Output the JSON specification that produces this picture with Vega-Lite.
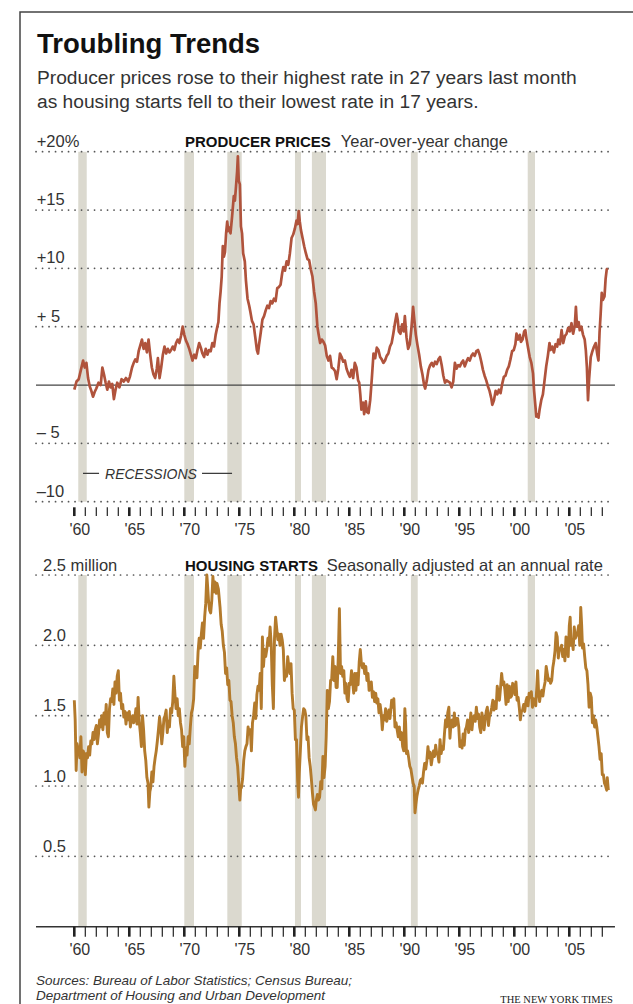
{
  "$schema": "https://vega.github.io/schema/vega-lite/v6.json",
  "width": 620,
  "height": 1000,
  "autosize": {"type": "none"},
  "padding": {"left": 20, "top": 12, "right": -7, "bottom": -8},
  "background": "white",
  "config": {
    "view": {"stroke": "#444", "strokeWidth": 1.5},
    "text": {"font": "Liberation Sans"}
  },
  "title": {
    "text": "Troubling Trends",
    "subtitle": ["Producer prices rose to their highest rate in 27 years last month", "as housing starts fell to their lowest rate in 17 years."],
    "anchor": "start",
    "frame": "group",
    "dx": 17,
    "offset": -100,
    "font": "Liberation Sans",
    "fontSize": 27.5,
    "fontWeight": "bold",
    "color": "#111",
    "subtitleFont": "Liberation Sans",
    "subtitleFontSize": 19.2,
    "subtitleColor": "#333",
    "subtitleLineHeight": 24,
    "subtitlePadding": 10
  },
  "datasets": {
    "rec": [
      {"start": 1960.36, "end": 1961.13}, {"start": 1970.0, "end": 1970.88}, {"start": 1973.91, "end": 1975.22},
      {"start": 1980.06, "end": 1980.61}, {"start": 1981.6, "end": 1982.88}, {"start": 1990.6, "end": 1991.22},
      {"start": 2001.22, "end": 2001.88}
    ],
    "years": [
      {"year": 1960}, {"year": 1961}, {"year": 1962}, {"year": 1963}, {"year": 1964}, {"year": 1965}, {"year": 1966},
      {"year": 1967}, {"year": 1968}, {"year": 1969}, {"year": 1970}, {"year": 1971}, {"year": 1972}, {"year": 1973},
      {"year": 1974}, {"year": 1975}, {"year": 1976}, {"year": 1977}, {"year": 1978}, {"year": 1979}, {"year": 1980},
      {"year": 1981}, {"year": 1982}, {"year": 1983}, {"year": 1984}, {"year": 1985}, {"year": 1986}, {"year": 1987},
      {"year": 1988}, {"year": 1989}, {"year": 1990}, {"year": 1991}, {"year": 1992}, {"year": 1993}, {"year": 1994},
      {"year": 1995}, {"year": 1996}, {"year": 1997}, {"year": 1998}, {"year": 1999}, {"year": 2000}, {"year": 2001},
      {"year": 2002}, {"year": 2003}, {"year": 2004}, {"year": 2005}, {"year": 2006}, {"year": 2007}, {"year": 2008}
    ],
    "xlab": [
      {"year": 1960, "label": "'60"}, {"year": 1965, "label": "'65"}, {"year": 1970, "label": "'70"},
      {"year": 1975, "label": "'75"}, {"year": 1980, "label": "'80"}, {"year": 1985, "label": "'85"},
      {"year": 1990, "label": "'90"}, {"year": 1995, "label": "'95"}, {"year": 2000, "label": "'00"},
      {"year": 2005, "label": "'05"}
    ],
    "labT": [
      {"v": 20, "label": "+20%"}, {"v": 15, "label": "+15"}, {"v": 10, "label": "+10"},
      {"v": 5, "label": "+ 5"}, {"v": -5, "label": "– 5"}, {"v": -10, "label": "–10"}
    ],
    "labB": [
      {"v": 2.5, "label": "2.5 million"}, {"v": 2.0, "label": "2.0"}, {"v": 1.5, "label": "1.5"},
      {"v": 1.0, "label": "1.0"}, {"v": 0.5, "label": "0.5"}
    ],
    "ppi": [
      {"t":1960.0,"v":-0.4},{"t":1960.2,"v":0.3},{"t":1960.4,"v":0.5},{"t":1960.6,"v":1.3},{"t":1960.8,"v":2.1},{"t":1960.95,"v":1.5},
      {"t":1961.1,"v":1.9},{"t":1961.25,"v":0.6},{"t":1961.4,"v":-0.1},{"t":1961.55,"v":-0.5},{"t":1961.7,"v":-1.0},{"t":1961.85,"v":-0.6},
      {"t":1962.0,"v":-0.3},{"t":1962.2,"v":0.2},{"t":1962.4,"v":0.0},{"t":1962.55,"v":1.5},{"t":1962.7,"v":0.9},{"t":1962.85,"v":0.2},
      {"t":1963.0,"v":-0.4},{"t":1963.15,"v":0.3},{"t":1963.3,"v":-0.2},{"t":1963.45,"v":0.1},{"t":1963.6,"v":-1.2},{"t":1963.75,"v":-0.4},{"t":1963.9,"v":0.2},
      {"t":1964.1,"v":-0.2},{"t":1964.3,"v":0.5},{"t":1964.5,"v":0.3},{"t":1964.7,"v":0.6},{"t":1964.9,"v":0.3},
      {"t":1965.05,"v":0.7},{"t":1965.25,"v":1.5},{"t":1965.4,"v":1.9},{"t":1965.55,"v":2.2},{"t":1965.7,"v":2.0},{"t":1965.85,"v":2.9},
      {"t":1966.0,"v":3.4},{"t":1966.15,"v":3.9},{"t":1966.3,"v":3.1},{"t":1966.45,"v":3.6},{"t":1966.6,"v":2.8},{"t":1966.75,"v":3.9},{"t":1966.9,"v":2.6},
      {"t":1967.05,"v":1.5},{"t":1967.2,"v":0.9},{"t":1967.35,"v":0.6},{"t":1967.5,"v":1.4},{"t":1967.6,"v":2.3},{"t":1967.75,"v":0.6},{"t":1967.9,"v":1.5},
      {"t":1968.05,"v":2.6},{"t":1968.2,"v":3.3},{"t":1968.35,"v":2.7},{"t":1968.5,"v":3.1},{"t":1968.65,"v":2.8},{"t":1968.8,"v":3.0},{"t":1968.95,"v":3.3},
      {"t":1969.1,"v":3.0},{"t":1969.25,"v":3.6},{"t":1969.4,"v":3.9},{"t":1969.55,"v":3.6},{"t":1969.7,"v":4.2},{"t":1969.85,"v":5.0},
      {"t":1970.0,"v":4.3},{"t":1970.15,"v":3.8},{"t":1970.3,"v":3.5},{"t":1970.45,"v":3.1},{"t":1970.6,"v":2.6},{"t":1970.75,"v":2.1},{"t":1970.9,"v":2.6},
      {"t":1971.05,"v":2.3},{"t":1971.2,"v":3.0},{"t":1971.35,"v":3.6},{"t":1971.5,"v":3.2},{"t":1971.65,"v":2.7},{"t":1971.8,"v":2.4},{"t":1971.95,"v":3.1},
      {"t":1972.1,"v":2.6},{"t":1972.25,"v":3.0},{"t":1972.4,"v":2.9},{"t":1972.55,"v":3.6},{"t":1972.7,"v":3.3},{"t":1972.85,"v":4.3},
      {"t":1973.0,"v":5.0},{"t":1973.1,"v":5.4},{"t":1973.2,"v":7.0},{"t":1973.3,"v":8.0},{"t":1973.4,"v":9.3},{"t":1973.5,"v":11.9},{"t":1973.6,"v":11.0},
      {"t":1973.7,"v":11.4},{"t":1973.8,"v":13.0},{"t":1973.9,"v":14.0},{"t":1974.0,"v":13.2},{"t":1974.1,"v":13.5},{"t":1974.2,"v":13.0},{"t":1974.35,"v":14.5},
      {"t":1974.5,"v":16.2},{"t":1974.6,"v":15.8},{"t":1974.7,"v":17.0},{"t":1974.8,"v":18.3},{"t":1974.87,"v":19.6},{"t":1974.95,"v":17.5},
      {"t":1975.05,"v":17.2},{"t":1975.15,"v":13.6},{"t":1975.25,"v":13.0},{"t":1975.35,"v":11.3},{"t":1975.5,"v":10.6},{"t":1975.6,"v":9.0},{"t":1975.75,"v":7.4},{"t":1975.9,"v":6.8},
      {"t":1976.0,"v":6.3},{"t":1976.15,"v":5.5},{"t":1976.3,"v":5.2},{"t":1976.45,"v":4.1},{"t":1976.6,"v":3.0},{"t":1976.7,"v":2.7},{"t":1976.8,"v":3.5},{"t":1976.95,"v":4.5},
      {"t":1977.1,"v":5.6},{"t":1977.25,"v":5.9},{"t":1977.4,"v":6.4},{"t":1977.55,"v":6.8},{"t":1977.7,"v":6.6},{"t":1977.85,"v":7.2},
      {"t":1978.0,"v":7.0},{"t":1978.15,"v":7.4},{"t":1978.3,"v":7.2},{"t":1978.45,"v":8.3},{"t":1978.6,"v":8.4},{"t":1978.75,"v":8.6},{"t":1978.9,"v":9.6},
      {"t":1979.0,"v":10.1},{"t":1979.15,"v":9.8},{"t":1979.3,"v":10.6},{"t":1979.45,"v":10.3},{"t":1979.6,"v":11.3},{"t":1979.75,"v":12.6},{"t":1979.9,"v":12.9},
      {"t":1980.05,"v":13.4},{"t":1980.2,"v":14.1},{"t":1980.3,"v":13.8},{"t":1980.4,"v":14.9},{"t":1980.5,"v":14.0},{"t":1980.6,"v":13.3},{"t":1980.75,"v":12.6},{"t":1980.9,"v":11.9},
      {"t":1981.05,"v":11.3},{"t":1981.2,"v":10.8},{"t":1981.35,"v":10.7},{"t":1981.5,"v":9.9},{"t":1981.65,"v":9.3},{"t":1981.8,"v":8.0},{"t":1981.95,"v":7.0},
      {"t":1982.1,"v":5.0},{"t":1982.2,"v":4.4},{"t":1982.35,"v":3.6},{"t":1982.5,"v":3.9},{"t":1982.65,"v":3.7},{"t":1982.8,"v":3.4},{"t":1982.95,"v":2.5},
      {"t":1983.1,"v":2.1},{"t":1983.25,"v":2.5},{"t":1983.4,"v":1.5},{"t":1983.55,"v":1.4},{"t":1983.7,"v":1.2},{"t":1983.85,"v":0.5},
      {"t":1984.0,"v":1.4},{"t":1984.15,"v":2.7},{"t":1984.3,"v":2.4},{"t":1984.45,"v":2.0},{"t":1984.6,"v":2.1},{"t":1984.75,"v":1.4},{"t":1984.9,"v":1.0},
      {"t":1985.05,"v":0.7},{"t":1985.2,"v":1.3},{"t":1985.35,"v":0.6},{"t":1985.5,"v":1.9},{"t":1985.65,"v":1.5},{"t":1985.8,"v":0.4},{"t":1985.9,"v":0.2},
      {"t":1986.0,"v":-0.8},{"t":1986.1,"v":-2.1},{"t":1986.25,"v":-1.5},{"t":1986.35,"v":-2.5},{"t":1986.5,"v":-1.4},{"t":1986.6,"v":-2.3},{"t":1986.75,"v":-2.4},{"t":1986.9,"v":-1.3},
      {"t":1987.05,"v":0.6},{"t":1987.2,"v":2.7},{"t":1987.35,"v":2.3},{"t":1987.5,"v":3.2},{"t":1987.65,"v":3.0},{"t":1987.8,"v":2.4},{"t":1987.95,"v":2.2},
      {"t":1988.1,"v":1.9},{"t":1988.25,"v":2.1},{"t":1988.4,"v":2.5},{"t":1988.55,"v":2.7},{"t":1988.7,"v":3.3},{"t":1988.85,"v":3.6},
      {"t":1989.0,"v":4.4},{"t":1989.15,"v":5.3},{"t":1989.3,"v":6.1},{"t":1989.4,"v":5.6},{"t":1989.5,"v":4.6},{"t":1989.65,"v":4.4},{"t":1989.8,"v":5.2},{"t":1989.95,"v":4.6},
      {"t":1990.05,"v":5.9},{"t":1990.2,"v":4.1},{"t":1990.35,"v":3.1},{"t":1990.5,"v":3.5},{"t":1990.65,"v":4.9},{"t":1990.8,"v":6.7},{"t":1990.9,"v":5.7},
      {"t":1991.05,"v":4.3},{"t":1991.2,"v":3.4},{"t":1991.35,"v":2.6},{"t":1991.5,"v":1.6},{"t":1991.65,"v":0.9},{"t":1991.8,"v":0.0},{"t":1991.9,"v":-0.3},
      {"t":1992.05,"v":0.4},{"t":1992.2,"v":1.3},{"t":1992.35,"v":1.7},{"t":1992.5,"v":1.9},{"t":1992.65,"v":1.6},{"t":1992.8,"v":2.0},{"t":1992.95,"v":1.8},
      {"t":1993.1,"v":2.2},{"t":1993.25,"v":2.4},{"t":1993.4,"v":1.7},{"t":1993.55,"v":0.8},{"t":1993.7,"v":0.2},{"t":1993.85,"v":0.4},
      {"t":1994.0,"v":0.3},{"t":1994.15,"v":0.2},{"t":1994.3,"v":-0.2},{"t":1994.45,"v":0.3},{"t":1994.6,"v":1.9},{"t":1994.75,"v":1.4},{"t":1994.9,"v":1.7},
      {"t":1995.05,"v":1.6},{"t":1995.2,"v":1.9},{"t":1995.35,"v":2.1},{"t":1995.5,"v":1.6},{"t":1995.65,"v":2.0},{"t":1995.8,"v":2.3},{"t":1995.95,"v":2.1},
      {"t":1996.1,"v":2.5},{"t":1996.25,"v":2.7},{"t":1996.4,"v":2.5},{"t":1996.55,"v":2.9},{"t":1996.7,"v":3.0},{"t":1996.85,"v":2.6},
      {"t":1997.0,"v":2.0},{"t":1997.15,"v":1.3},{"t":1997.3,"v":0.8},{"t":1997.45,"v":0.4},{"t":1997.6,"v":-0.1},{"t":1997.75,"v":-0.5},{"t":1997.9,"v":-1.1},
      {"t":1998.0,"v":-1.7},{"t":1998.15,"v":-1.3},{"t":1998.3,"v":-0.5},{"t":1998.45,"v":-0.8},{"t":1998.6,"v":-0.4},{"t":1998.75,"v":-0.7},{"t":1998.9,"v":0.1},
      {"t":1999.05,"v":0.7},{"t":1999.2,"v":0.8},{"t":1999.35,"v":1.3},{"t":1999.5,"v":1.6},{"t":1999.65,"v":2.2},{"t":1999.8,"v":2.9},{"t":1999.95,"v":3.0},
      {"t":2000.1,"v":3.5},{"t":2000.2,"v":4.4},{"t":2000.35,"v":3.9},{"t":2000.5,"v":4.3},{"t":2000.6,"v":3.7},{"t":2000.75,"v":3.9},{"t":2000.9,"v":4.6},
      {"t":2001.0,"v":4.7},{"t":2001.1,"v":4.0},{"t":2001.25,"v":3.2},{"t":2001.4,"v":2.4},{"t":2001.55,"v":1.9},{"t":2001.7,"v":1.0},{"t":2001.8,"v":-0.5},{"t":2001.9,"v":-1.6},
      {"t":2002.0,"v":-2.7},{"t":2002.1,"v":-2.5},{"t":2002.2,"v":-2.8},{"t":2002.3,"v":-2.1},{"t":2002.45,"v":-1.3},{"t":2002.6,"v":-0.8},{"t":2002.75,"v":0.4},{"t":2002.9,"v":1.6},
      {"t":2003.05,"v":2.5},{"t":2003.2,"v":3.6},{"t":2003.3,"v":3.0},{"t":2003.45,"v":3.3},{"t":2003.6,"v":2.8},{"t":2003.75,"v":3.5},{"t":2003.9,"v":3.3},
      {"t":2004.0,"v":3.9},{"t":2004.15,"v":3.5},{"t":2004.3,"v":4.7},{"t":2004.45,"v":3.6},{"t":2004.6,"v":4.2},{"t":2004.75,"v":4.4},{"t":2004.9,"v":4.9},
      {"t":2005.05,"v":4.6},{"t":2005.2,"v":5.3},{"t":2005.35,"v":4.4},{"t":2005.5,"v":5.1},{"t":2005.6,"v":6.7},{"t":2005.7,"v":5.0},{"t":2005.85,"v":5.4},{"t":2005.95,"v":4.7},
      {"t":2006.1,"v":5.0},{"t":2006.25,"v":4.3},{"t":2006.4,"v":3.9},{"t":2006.5,"v":3.0},{"t":2006.6,"v":1.5},{"t":2006.7,"v":-1.3},{"t":2006.8,"v":0.5},{"t":2006.95,"v":2.4},
      {"t":2007.1,"v":2.9},{"t":2007.25,"v":3.3},{"t":2007.4,"v":3.6},{"t":2007.55,"v":2.6},{"t":2007.65,"v":2.1},{"t":2007.75,"v":4.5},{"t":2007.85,"v":6.1},{"t":2007.95,"v":7.9},
      {"t":2008.05,"v":7.3},{"t":2008.2,"v":7.6},{"t":2008.3,"v":9.1},{"t":2008.4,"v":9.9},{"t":2008.5,"v":10.0}
    ],
    "hs": [
      {"t":1960.0,"v":1.61},{"t":1960.08,"v":1.47},{"t":1960.17,"v":1.11},{"t":1960.25,"v":1.30},{"t":1960.33,"v":1.27},{"t":1960.42,"v":1.25},{"t":1960.5,"v":1.20},
      {"t":1960.6,"v":1.35},{"t":1960.7,"v":1.10},{"t":1960.8,"v":1.25},{"t":1960.9,"v":1.23},{"t":1961.0,"v":1.08},{"t":1961.1,"v":1.23},{"t":1961.2,"v":1.20},
      {"t":1961.3,"v":1.28},{"t":1961.4,"v":1.22},{"t":1961.5,"v":1.32},{"t":1961.6,"v":1.30},{"t":1961.7,"v":1.38},{"t":1961.8,"v":1.33},{"t":1961.9,"v":1.40},
      {"t":1962.0,"v":1.43},{"t":1962.1,"v":1.30},{"t":1962.2,"v":1.37},{"t":1962.3,"v":1.47},{"t":1962.4,"v":1.42},{"t":1962.5,"v":1.50},{"t":1962.6,"v":1.40},
      {"t":1962.7,"v":1.52},{"t":1962.8,"v":1.44},{"t":1962.9,"v":1.58},{"t":1963.0,"v":1.38},{"t":1963.1,"v":1.35},{"t":1963.2,"v":1.55},{"t":1963.3,"v":1.62},
      {"t":1963.4,"v":1.60},{"t":1963.5,"v":1.69},{"t":1963.6,"v":1.58},{"t":1963.7,"v":1.74},{"t":1963.8,"v":1.66},{"t":1963.9,"v":1.78},{"t":1964.0,"v":1.82},
      {"t":1964.1,"v":1.61},{"t":1964.2,"v":1.66},{"t":1964.3,"v":1.55},{"t":1964.4,"v":1.58},{"t":1964.5,"v":1.49},{"t":1964.6,"v":1.53},{"t":1964.7,"v":1.44},
      {"t":1964.8,"v":1.52},{"t":1964.9,"v":1.47},{"t":1965.0,"v":1.53},{"t":1965.1,"v":1.42},{"t":1965.2,"v":1.48},{"t":1965.3,"v":1.50},{"t":1965.4,"v":1.45},
      {"t":1965.5,"v":1.48},{"t":1965.6,"v":1.55},{"t":1965.7,"v":1.44},{"t":1965.8,"v":1.63},{"t":1965.9,"v":1.46},{"t":1966.0,"v":1.38},{"t":1966.1,"v":1.28},
      {"t":1966.2,"v":1.50},{"t":1966.3,"v":1.40},{"t":1966.4,"v":1.25},{"t":1966.5,"v":1.18},{"t":1966.6,"v":1.06},{"t":1966.7,"v":1.02},{"t":1966.78,"v":0.85},
      {"t":1966.87,"v":0.96},{"t":1966.95,"v":0.99},{"t":1967.05,"v":1.10},{"t":1967.15,"v":1.03},{"t":1967.25,"v":1.14},{"t":1967.35,"v":1.20},{"t":1967.45,"v":1.25},
      {"t":1967.55,"v":1.32},{"t":1967.65,"v":1.40},{"t":1967.75,"v":1.49},{"t":1967.85,"v":1.42},{"t":1967.95,"v":1.30},{"t":1968.05,"v":1.38},{"t":1968.15,"v":1.48},
      {"t":1968.25,"v":1.50},{"t":1968.35,"v":1.54},{"t":1968.45,"v":1.38},{"t":1968.55,"v":1.46},{"t":1968.65,"v":1.42},{"t":1968.75,"v":1.55},{"t":1968.85,"v":1.52},
      {"t":1968.95,"v":1.60},{"t":1969.05,"v":1.78},{"t":1969.15,"v":1.65},{"t":1969.25,"v":1.55},{"t":1969.35,"v":1.62},{"t":1969.45,"v":1.50},{"t":1969.55,"v":1.55},
      {"t":1969.65,"v":1.45},{"t":1969.75,"v":1.40},{"t":1969.85,"v":1.28},{"t":1969.95,"v":1.35},{"t":1970.05,"v":1.14},{"t":1970.15,"v":1.27},{"t":1970.25,"v":1.22},
      {"t":1970.35,"v":1.35},{"t":1970.45,"v":1.30},{"t":1970.55,"v":1.42},{"t":1970.65,"v":1.52},{"t":1970.75,"v":1.55},{"t":1970.85,"v":1.62},{"t":1970.95,"v":1.85},
      {"t":1971.05,"v":1.83},{"t":1971.15,"v":1.77},{"t":1971.25,"v":1.95},{"t":1971.35,"v":2.05},{"t":1971.45,"v":1.98},{"t":1971.55,"v":2.08},{"t":1971.65,"v":2.16},
      {"t":1971.75,"v":2.05},{"t":1971.85,"v":2.20},{"t":1971.95,"v":2.30},{"t":1972.05,"v":2.50},{"t":1972.12,"v":2.42},{"t":1972.2,"v":2.32},{"t":1972.3,"v":2.25},
      {"t":1972.4,"v":2.23},{"t":1972.5,"v":2.32},{"t":1972.6,"v":2.49},{"t":1972.7,"v":2.38},{"t":1972.8,"v":2.45},{"t":1972.9,"v":2.37},{"t":1972.97,"v":2.44},
      {"t":1973.1,"v":2.40},{"t":1973.25,"v":2.27},{"t":1973.35,"v":2.15},{"t":1973.45,"v":2.10},{"t":1973.55,"v":2.00},{"t":1973.65,"v":1.95},{"t":1973.75,"v":1.80},
      {"t":1973.85,"v":1.84},{"t":1973.95,"v":1.72},{"t":1974.05,"v":1.75},{"t":1974.15,"v":1.61},{"t":1974.25,"v":1.60},{"t":1974.35,"v":1.50},{"t":1974.45,"v":1.45},
      {"t":1974.55,"v":1.35},{"t":1974.65,"v":1.30},{"t":1974.75,"v":1.20},{"t":1974.85,"v":1.14},{"t":1974.95,"v":1.02},{"t":1975.05,"v":0.90},{"t":1975.12,"v":0.98},
      {"t":1975.2,"v":0.99},{"t":1975.3,"v":1.05},{"t":1975.4,"v":1.18},{"t":1975.5,"v":1.25},{"t":1975.6,"v":1.28},{"t":1975.7,"v":1.30},{"t":1975.8,"v":1.42},
      {"t":1975.9,"v":1.37},{"t":1976.0,"v":1.40},{"t":1976.1,"v":1.25},{"t":1976.2,"v":1.45},{"t":1976.3,"v":1.50},{"t":1976.4,"v":1.59},{"t":1976.5,"v":1.48},
      {"t":1976.6,"v":1.65},{"t":1976.7,"v":1.71},{"t":1976.8,"v":1.68},{"t":1976.9,"v":1.80},{"t":1977.0,"v":1.55},{"t":1977.1,"v":2.06},{"t":1977.2,"v":1.85},
      {"t":1977.3,"v":1.97},{"t":1977.4,"v":1.92},{"t":1977.5,"v":1.97},{"t":1977.6,"v":2.05},{"t":1977.7,"v":2.00},{"t":1977.8,"v":2.13},{"t":1977.9,"v":2.01},
      {"t":1978.0,"v":1.72},{"t":1978.1,"v":1.55},{"t":1978.2,"v":2.05},{"t":1978.3,"v":2.20},{"t":1978.4,"v":2.12},{"t":1978.5,"v":2.04},{"t":1978.6,"v":2.08},
      {"t":1978.7,"v":2.00},{"t":1978.8,"v":2.08},{"t":1978.9,"v":2.04},{"t":1979.0,"v":1.97},{"t":1979.1,"v":1.75},{"t":1979.2,"v":1.80},{"t":1979.3,"v":1.78},
      {"t":1979.4,"v":1.92},{"t":1979.5,"v":1.85},{"t":1979.6,"v":1.80},{"t":1979.7,"v":1.87},{"t":1979.8,"v":1.66},{"t":1979.9,"v":1.55},{"t":1980.0,"v":1.54},
      {"t":1980.1,"v":1.33},{"t":1980.2,"v":1.33},{"t":1980.3,"v":1.04},{"t":1980.38,"v":0.92},{"t":1980.45,"v":1.09},{"t":1980.55,"v":1.25},{"t":1980.65,"v":1.42},
      {"t":1980.75,"v":1.49},{"t":1980.85,"v":1.55},{"t":1980.95,"v":1.54},{"t":1981.05,"v":1.50},{"t":1981.15,"v":1.33},{"t":1981.25,"v":1.35},{"t":1981.35,"v":1.20},
      {"t":1981.45,"v":1.14},{"t":1981.55,"v":1.05},{"t":1981.65,"v":0.95},{"t":1981.75,"v":0.87},{"t":1981.85,"v":0.85},{"t":1981.92,"v":0.83},{"t":1982.0,"v":0.90},
      {"t":1982.1,"v":0.94},{"t":1982.2,"v":0.90},{"t":1982.3,"v":0.92},{"t":1982.4,"v":1.03},{"t":1982.5,"v":0.98},{"t":1982.6,"v":1.21},{"t":1982.7,"v":1.06},
      {"t":1982.8,"v":1.14},{"t":1982.9,"v":1.35},{"t":1983.0,"v":1.68},{"t":1983.1,"v":1.55},{"t":1983.2,"v":1.60},{"t":1983.3,"v":1.75},{"t":1983.4,"v":1.76},
      {"t":1983.5,"v":1.92},{"t":1983.6,"v":1.75},{"t":1983.7,"v":1.85},{"t":1983.8,"v":1.70},{"t":1983.9,"v":1.70},{"t":1984.0,"v":1.92},{"t":1984.1,"v":2.26},
      {"t":1984.2,"v":1.80},{"t":1984.3,"v":1.85},{"t":1984.4,"v":1.78},{"t":1984.5,"v":1.82},{"t":1984.6,"v":1.66},{"t":1984.7,"v":1.73},{"t":1984.8,"v":1.62},
      {"t":1984.9,"v":1.60},{"t":1985.0,"v":1.73},{"t":1985.1,"v":1.72},{"t":1985.2,"v":1.82},{"t":1985.3,"v":1.75},{"t":1985.4,"v":1.66},{"t":1985.5,"v":1.80},
      {"t":1985.6,"v":1.68},{"t":1985.7,"v":1.80},{"t":1985.8,"v":1.72},{"t":1985.9,"v":1.88},{"t":1986.0,"v":1.97},{"t":1986.1,"v":1.87},{"t":1986.2,"v":1.84},
      {"t":1986.3,"v":1.87},{"t":1986.4,"v":1.80},{"t":1986.5,"v":1.85},{"t":1986.6,"v":1.75},{"t":1986.7,"v":1.80},{"t":1986.8,"v":1.68},{"t":1986.9,"v":1.70},
      {"t":1987.0,"v":1.74},{"t":1987.1,"v":1.63},{"t":1987.2,"v":1.67},{"t":1987.3,"v":1.60},{"t":1987.4,"v":1.66},{"t":1987.5,"v":1.59},{"t":1987.6,"v":1.62},
      {"t":1987.7,"v":1.52},{"t":1987.8,"v":1.58},{"t":1987.9,"v":1.52},{"t":1988.0,"v":1.40},{"t":1988.1,"v":1.50},{"t":1988.2,"v":1.47},{"t":1988.3,"v":1.55},
      {"t":1988.4,"v":1.46},{"t":1988.5,"v":1.49},{"t":1988.6,"v":1.54},{"t":1988.7,"v":1.48},{"t":1988.85,"v":1.61},{"t":1988.95,"v":1.56},{"t":1989.05,"v":1.62},
      {"t":1989.15,"v":1.42},{"t":1989.25,"v":1.45},{"t":1989.35,"v":1.40},{"t":1989.45,"v":1.35},{"t":1989.55,"v":1.42},{"t":1989.65,"v":1.33},{"t":1989.75,"v":1.38},
      {"t":1989.85,"v":1.28},{"t":1989.95,"v":1.25},{"t":1990.05,"v":1.55},{"t":1990.12,"v":1.45},{"t":1990.2,"v":1.23},{"t":1990.3,"v":1.25},{"t":1990.4,"v":1.20},
      {"t":1990.5,"v":1.14},{"t":1990.6,"v":1.12},{"t":1990.7,"v":1.07},{"t":1990.8,"v":1.02},{"t":1990.9,"v":1.00},{"t":1990.97,"v":0.81},{"t":1991.05,"v":0.87},
      {"t":1991.15,"v":0.93},{"t":1991.25,"v":0.97},{"t":1991.35,"v":1.00},{"t":1991.45,"v":1.04},{"t":1991.55,"v":1.05},{"t":1991.65,"v":1.02},{"t":1991.75,"v":1.10},
      {"t":1991.85,"v":1.16},{"t":1991.95,"v":1.12},{"t":1992.05,"v":1.18},{"t":1992.15,"v":1.28},{"t":1992.25,"v":1.20},{"t":1992.35,"v":1.24},{"t":1992.45,"v":1.15},
      {"t":1992.55,"v":1.20},{"t":1992.65,"v":1.25},{"t":1992.75,"v":1.21},{"t":1992.85,"v":1.29},{"t":1992.95,"v":1.23},{"t":1993.05,"v":1.22},{"t":1993.15,"v":1.17},
      {"t":1993.25,"v":1.33},{"t":1993.35,"v":1.23},{"t":1993.45,"v":1.28},{"t":1993.55,"v":1.26},{"t":1993.65,"v":1.37},{"t":1993.75,"v":1.47},{"t":1993.85,"v":1.42},
      {"t":1993.95,"v":1.52},{"t":1994.05,"v":1.56},{"t":1994.15,"v":1.34},{"t":1994.25,"v":1.45},{"t":1994.35,"v":1.47},{"t":1994.45,"v":1.42},{"t":1994.55,"v":1.52},
      {"t":1994.65,"v":1.43},{"t":1994.75,"v":1.48},{"t":1994.85,"v":1.48},{"t":1994.95,"v":1.42},{"t":1995.05,"v":1.28},{"t":1995.15,"v":1.32},{"t":1995.25,"v":1.27},
      {"t":1995.35,"v":1.37},{"t":1995.45,"v":1.29},{"t":1995.55,"v":1.40},{"t":1995.65,"v":1.42},{"t":1995.75,"v":1.47},{"t":1995.85,"v":1.38},{"t":1995.95,"v":1.43},
      {"t":1996.05,"v":1.52},{"t":1996.15,"v":1.40},{"t":1996.25,"v":1.48},{"t":1996.35,"v":1.50},{"t":1996.45,"v":1.46},{"t":1996.55,"v":1.56},{"t":1996.65,"v":1.48},
      {"t":1996.75,"v":1.51},{"t":1996.85,"v":1.42},{"t":1996.95,"v":1.38},{"t":1997.05,"v":1.52},{"t":1997.15,"v":1.48},{"t":1997.25,"v":1.40},{"t":1997.35,"v":1.47},
      {"t":1997.45,"v":1.53},{"t":1997.55,"v":1.56},{"t":1997.65,"v":1.43},{"t":1997.75,"v":1.50},{"t":1997.85,"v":1.52},{"t":1997.95,"v":1.56},{"t":1998.05,"v":1.61},
      {"t":1998.15,"v":1.54},{"t":1998.25,"v":1.60},{"t":1998.35,"v":1.55},{"t":1998.45,"v":1.71},{"t":1998.55,"v":1.65},{"t":1998.65,"v":1.61},{"t":1998.75,"v":1.70},
      {"t":1998.85,"v":1.80},{"t":1998.95,"v":1.72},{"t":1999.05,"v":1.74},{"t":1999.15,"v":1.68},{"t":1999.25,"v":1.58},{"t":1999.35,"v":1.72},{"t":1999.45,"v":1.60},
      {"t":1999.55,"v":1.71},{"t":1999.65,"v":1.63},{"t":1999.75,"v":1.64},{"t":1999.85,"v":1.73},{"t":1999.95,"v":1.71},{"t":2000.05,"v":1.65},{"t":2000.15,"v":1.74},
      {"t":2000.25,"v":1.61},{"t":2000.35,"v":1.63},{"t":2000.45,"v":1.56},{"t":2000.55,"v":1.47},{"t":2000.65,"v":1.53},{"t":2000.75,"v":1.54},{"t":2000.85,"v":1.58},
      {"t":2000.95,"v":1.53},{"t":2001.05,"v":1.60},{"t":2001.15,"v":1.63},{"t":2001.25,"v":1.57},{"t":2001.35,"v":1.66},{"t":2001.45,"v":1.63},{"t":2001.55,"v":1.67},
      {"t":2001.65,"v":1.56},{"t":2001.75,"v":1.62},{"t":2001.85,"v":1.60},{"t":2001.95,"v":1.57},{"t":2002.05,"v":1.71},{"t":2002.12,"v":1.82},{"t":2002.2,"v":1.68},
      {"t":2002.3,"v":1.60},{"t":2002.4,"v":1.66},{"t":2002.5,"v":1.68},{"t":2002.6,"v":1.64},{"t":2002.7,"v":1.70},{"t":2002.8,"v":1.74},{"t":2002.9,"v":1.85},
      {"t":2003.0,"v":1.80},{"t":2003.1,"v":1.75},{"t":2003.2,"v":1.76},{"t":2003.3,"v":1.73},{"t":2003.4,"v":1.75},{"t":2003.5,"v":1.84},{"t":2003.6,"v":1.89},
      {"t":2003.7,"v":1.96},{"t":2003.8,"v":2.09},{"t":2003.9,"v":2.06},{"t":2004.0,"v":1.91},{"t":2004.1,"v":1.97},{"t":2004.2,"v":1.98},{"t":2004.3,"v":2.00},
      {"t":2004.4,"v":1.92},{"t":2004.5,"v":1.97},{"t":2004.6,"v":1.89},{"t":2004.7,"v":2.06},{"t":2004.8,"v":2.04},{"t":2004.9,"v":1.92},{"t":2005.0,"v":2.14},
      {"t":2005.08,"v":2.20},{"t":2005.15,"v":2.00},{"t":2005.25,"v":2.04},{"t":2005.35,"v":1.97},{"t":2005.45,"v":2.13},{"t":2005.55,"v":2.05},{"t":2005.65,"v":2.07},
      {"t":2005.75,"v":2.09},{"t":2005.85,"v":2.14},{"t":2005.95,"v":2.00},{"t":2006.04,"v":2.27},{"t":2006.12,"v":2.15},{"t":2006.2,"v":1.98},{"t":2006.3,"v":2.01},
      {"t":2006.4,"v":1.92},{"t":2006.5,"v":1.84},{"t":2006.6,"v":1.82},{"t":2006.7,"v":1.72},{"t":2006.8,"v":1.56},{"t":2006.9,"v":1.66},{"t":2007.0,"v":1.63},
      {"t":2007.1,"v":1.45},{"t":2007.2,"v":1.50},{"t":2007.3,"v":1.42},{"t":2007.4,"v":1.47},{"t":2007.5,"v":1.42},{"t":2007.6,"v":1.35},{"t":2007.7,"v":1.28},
      {"t":2007.8,"v":1.19},{"t":2007.9,"v":1.23},{"t":2008.0,"v":1.08},{"t":2008.1,"v":1.08},{"t":2008.2,"v":1.02},{"t":2008.3,"v":1.00},{"t":2008.4,"v":0.97},
      {"t":2008.45,"v":1.06},{"t":2008.55,"v":0.97}
    ]
  },
  "layer": [
    {
      "layer": [
        {
          "data": {"name": "rec"},
          "mark": {"type": "rect", "color": "#dbd9cf"},
          "encoding": {
            "x": {"field": "start", "type": "quantitative", "scale": {"domain": [1955.0636, 2011.427], "nice": false, "zero": false}, "axis": null},
            "x2": {"field": "end"},
            "y": {"datum": 20, "type": "quantitative", "scale": {"domain": [-10, 20], "range": [489.7, 139.7], "nice": false, "zero": false}, "axis": null},
            "y2": {"datum": -10}
          }
        },
        {
          "data": {"values": [{"v": 20}, {"v": 15}, {"v": 10}, {"v": 5}, {"v": -5}, {"v": -10}]},
          "mark": {"type": "rule", "color": "#555", "strokeWidth": 1.7, "strokeDash": [0.1, 6.4], "strokeCap": "round"},
          "encoding": {
            "x": {"datum": 1956.518, "type": "quantitative"},
            "x2": {"datum": 2008.97},
            "y": {"field": "v", "type": "quantitative"}
          }
        },
        {
          "data": {"values": [{}]},
          "mark": {"type": "rule", "color": "#444", "strokeWidth": 1.3},
          "encoding": {
            "x": {"datum": 1956.518, "type": "quantitative"},
            "x2": {"datum": 2009.15},
            "y": {"datum": 0, "type": "quantitative"}
          }
        },
        {
          "data": {"name": "labT"},
          "mark": {"type": "text", "align": "left", "baseline": "alphabetic", "dy": -5, "fontSize": 16.5, "color": "#333"},
          "encoding": {
            "x": {"datum": 1956.58, "type": "quantitative"},
            "y": {"field": "v", "type": "quantitative"},
            "text": {"field": "label"}
          }
        },
        {
          "data": {"values": [{}]},
          "mark": {"type": "text", "text": "PRODUCER PRICES", "align": "left", "baseline": "alphabetic", "dy": -5, "fontSize": 15, "fontWeight": "bold", "color": "#111"},
          "encoding": {
            "x": {"datum": 1970.06, "type": "quantitative"},
            "y": {"datum": 20, "type": "quantitative"}
          }
        },
        {
          "data": {"values": [{}]},
          "mark": {"type": "text", "text": "Year-over-year change", "align": "left", "baseline": "alphabetic", "dy": -5, "fontSize": 16.5, "color": "#333"},
          "encoding": {
            "x": {"datum": 1984.22, "type": "quantitative"},
            "y": {"datum": 20, "type": "quantitative"}
          }
        },
        {
          "data": {"values": [{}]},
          "mark": {"type": "text", "text": "RECESSIONS", "align": "center", "baseline": "alphabetic", "fontSize": 14, "fontStyle": "italic", "color": "#333"},
          "encoding": {
            "x": {"datum": 1966.97, "type": "quantitative"},
            "y": {"datum": -8.08, "type": "quantitative"}
          }
        },
        {
          "data": {"values": [{"a": 1960.79, "b": 1962.25}, {"a": 1971.61, "b": 1974.34}]},
          "mark": {"type": "rule", "color": "#333", "strokeWidth": 1.2},
          "encoding": {
            "x": {"field": "a", "type": "quantitative"},
            "x2": {"field": "b"},
            "y": {"datum": -7.57, "type": "quantitative"}
          }
        },
        {
          "data": {"name": "years"},
          "mark": {"type": "rule", "color": "#222"},
          "encoding": {
            "x": {"field": "year", "type": "quantitative"},
            "y": {"datum": -10.48, "type": "quantitative"},
            "y2": {"datum": -11.23},
            "strokeWidth": {"condition": {"test": "datum.year % 5 === 0", "value": 2.6}, "value": 1.2}
          }
        },
        {
          "data": {"name": "xlab"},
          "mark": {"type": "text", "align": "center", "baseline": "alphabetic", "dx": 5.5, "fontSize": 16, "color": "#333"},
          "encoding": {
            "x": {"field": "year", "type": "quantitative"},
            "y": {"datum": -12.86, "type": "quantitative"},
            "text": {"field": "label"}
          }
        },
        {
          "data": {"name": "ppi"},
          "mark": {"type": "line", "color": "#b0533c", "strokeWidth": 2.7, "strokeJoin": "round"},
          "encoding": {
            "x": {"field": "t", "type": "quantitative"},
            "y": {"field": "v", "type": "quantitative"}
          }
        }
      ]
    },
    {
      "layer": [
        {
          "data": {"name": "rec"},
          "mark": {"type": "rect", "color": "#dbd9cf"},
          "encoding": {
            "x": {"field": "start", "type": "quantitative", "scale": {"domain": [1955.0636, 2011.427], "nice": false, "zero": false}, "axis": null},
            "x2": {"field": "end"},
            "y": {"datum": 2.5, "type": "quantitative", "scale": {"domain": [0, 2.5], "range": [914.7, 563], "nice": false, "zero": false}, "axis": null},
            "y2": {"datum": 0}
          }
        },
        {
          "data": {"values": [{"v": 2.5}, {"v": 2.0}, {"v": 1.5}, {"v": 1.0}, {"v": 0.5}]},
          "mark": {"type": "rule", "color": "#555", "strokeWidth": 1.7, "strokeDash": [0.1, 6.4], "strokeCap": "round"},
          "encoding": {
            "x": {"datum": 1956.518, "type": "quantitative"},
            "x2": {"datum": 2008.97},
            "y": {"field": "v", "type": "quantitative"}
          }
        },
        {
          "data": {"values": [{}]},
          "mark": {"type": "rule", "color": "#333", "strokeWidth": 1.4},
          "encoding": {
            "x": {"datum": 1956.518, "type": "quantitative"},
            "x2": {"datum": 2009.15},
            "y": {"datum": 0, "type": "quantitative"}
          }
        },
        {
          "data": {"name": "labB"},
          "mark": {"type": "text", "align": "left", "baseline": "alphabetic", "dy": -4.3, "fontSize": 16.5, "color": "#333"},
          "encoding": {
            "x": {"datum": 1957.155, "type": "quantitative"},
            "y": {"field": "v", "type": "quantitative"},
            "text": {"field": "label"}
          }
        },
        {
          "data": {"values": [{}]},
          "mark": {"type": "text", "text": "HOUSING STARTS", "align": "left", "baseline": "alphabetic", "dy": -4.5, "fontSize": 15, "fontWeight": "bold", "color": "#111"},
          "encoding": {
            "x": {"datum": 1970.06, "type": "quantitative"},
            "y": {"datum": 2.5, "type": "quantitative"}
          }
        },
        {
          "data": {"values": [{}]},
          "mark": {"type": "text", "text": "Seasonally adjusted at an annual rate", "align": "left", "baseline": "alphabetic", "dy": -4.5, "fontSize": 16.5, "color": "#333"},
          "encoding": {
            "x": {"datum": 1982.95, "type": "quantitative"},
            "y": {"datum": 2.5, "type": "quantitative"}
          }
        },
        {
          "data": {"name": "years"},
          "mark": {"type": "rule", "color": "#222"},
          "encoding": {
            "x": {"field": "year", "type": "quantitative"},
            "y": {"datum": 0, "type": "quantitative"},
            "y2": {"datum": -0.071},
            "strokeWidth": {"condition": {"test": "datum.year % 5 === 0", "value": 2.6}, "value": 1.2}
          }
        },
        {
          "data": {"name": "xlab"},
          "mark": {"type": "text", "align": "center", "baseline": "alphabetic", "dx": 5.5, "fontSize": 16, "color": "#333"},
          "encoding": {
            "x": {"field": "year", "type": "quantitative"},
            "y": {"datum": -0.201, "type": "quantitative"},
            "text": {"field": "label"}
          }
        },
        {
          "data": {"values": [{}]},
          "mark": {"type": "text", "text": ["Sources: Bureau of Labor Statistics; Census Bureau;", "Department of Housing and Urban Development"], "align": "left", "baseline": "alphabetic", "lineHeight": 15, "fontSize": 13.5, "fontStyle": "italic", "color": "#333"},
          "encoding": {
            "x": {"datum": 1956.518, "type": "quantitative"},
            "y": {"datum": -0.4144, "type": "quantitative"}
          }
        },
        {
          "data": {"values": [{}]},
          "mark": {"type": "text", "text": "THE NEW YORK TIMES", "align": "right", "baseline": "alphabetic", "fontSize": 10.5, "font": "Liberation Serif", "color": "#222"},
          "encoding": {
            "x": {"datum": 2008.97, "type": "quantitative"},
            "y": {"datum": -0.539, "type": "quantitative"}
          }
        },
        {
          "data": {"name": "hs"},
          "mark": {"type": "line", "color": "#b37a2c", "strokeWidth": 2.9, "strokeJoin": "round"},
          "encoding": {
            "x": {"field": "t", "type": "quantitative"},
            "y": {"field": "v", "type": "quantitative"}
          }
        }
      ]
    }
  ],
  "resolve": {"scale": {"y": "independent"}}
}
